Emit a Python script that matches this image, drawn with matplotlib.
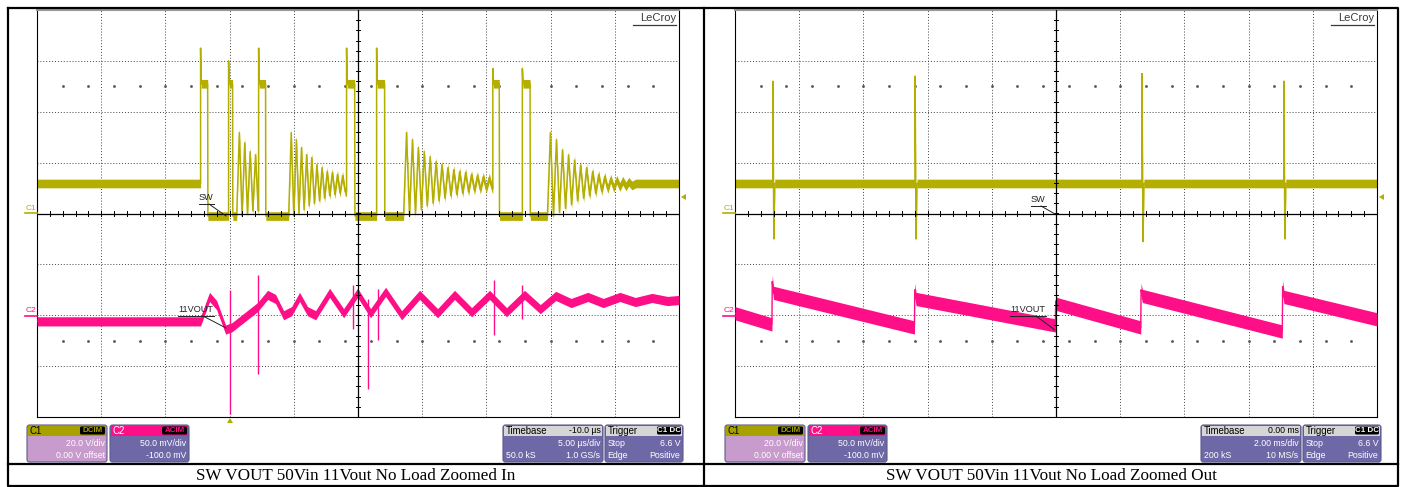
import numpy as np
import matplotlib
matplotlib.use('Agg')
import matplotlib.pyplot as plt
from matplotlib.patches import Rectangle, FancyBboxPatch, Polygon

W, H = 1406, 487
C1_COL = '#B4AE00'
C2_COL = '#FF0F87'

# ---------------- zoomed in: time in us, C1 (SW) in V, C2 (VOUT, AC) in mV
zi_t_left = -15.0
zi_t_div = 5.0
c1_idle = 11.8
c1_low = -1.0
c1_high = 51.0
zi_rise = [-2.26, -0.08, 2.26, 9.11, 11.45, 20.5, 22.8]
zi_fall = [-1.71, 0.23, 2.80, 9.74, 12.07, 21.0, 23.4]
zi_peak = [65, 60, 65, 65, 65, 57, 57]
zi_ring_start = [0.55, 4.6, 13.55, 24.75]
zi_ring_period = [0.42, 0.40, 0.46, 0.47]
zi_ring_hi = [
    [31.8, 27.8, 24.3, 23.1],
    [31.8, 29.0, 25.9, 23.1, 22.0, 19.2, 18.0, 16.5, 16.1, 15.3, 14.9],
    [31.8, 29.0, 25.9, 24.3, 22.3, 20.4, 19.2, 18.0, 17.2, 16.5, 16.1, 15.3, 14.9, 14.5, 14.1],
    [31.8, 29.0, 25.0, 23.0, 21.0, 19.0, 18.0, 16.5, 15.3, 14.5, 13.7, 13.3, 12.9, 12.5],
]
zi_ring_lo = [
    [-1, 0, 1, 1],
    [-1, 0, 1.5, 3, 4, 5, 6, 7, 7.5, 8, 8.5],
    [-1, 0, 1.5, 3, 4, 5, 6, 7, 7.5, 8, 8.5, 9, 9.3, 9.6, 9.8],
    [-1, 0.5, 2, 3.5, 5, 6, 7, 8, 8.8, 9.5, 10, 10.4, 10.7, 11],
]

c2_zi_t = [-15.0, -2.26, -1.56, -1.01, -0.31, 0.16, 1.17, 2.18, 2.96, 3.58, 4.21,
           4.83, 5.45, 6.07, 6.70, 7.79, 8.88, 9.97, 10.98, 12.15, 13.40, 14.80,
           16.2, 17.52, 18.85, 20.25, 21.57, 22.97, 24.2, 25.4, 26.6, 27.9, 29.1,
           30.4, 31.6, 32.9, 34.1, 35.0]
c2_zi_mv = [-6, -6, 18, 10, -14, -12, -2, 8, 20, 16, 0, 4, 18, 4, 0, 22, 2, 22, 2,
            23, 0, 20, 2, 20, 3, 20, 3, 20, 6, 19, 12, 18, 12, 18, 13, 17, 14, 15]
c2_zi_spike_t = [0.0, 2.18, 9.58, 10.75, 11.53, 20.6, 22.8]
c2_zi_spike_lo = [-97, -58, -14, -72, -24, -19, -4]
c2_zi_spike_hi = [25, 40, 30, 16, 26, 35, 30]

# ---------------- zoomed out: time in ms
zo_t_left = -10.0
zo_t_div = 2.0
zo_spike_t = [-8.82, -4.39, 2.68, 7.10]
zo_spike_hi = [52, 54, 55, 52]
zo_spike_lo = [-10, -10, -11, -10]
c2_zo_t = [-10.0, -8.85, -8.84, -8.80, -4.41, -4.40, -4.36, -0.02, -0.01, 0.03,
           2.64, 2.65, 2.69, 7.05, 7.06, 7.10, 10.0]
c2_zo_mv = [2, -9, 33, 22, -12, 25, 16, -10, 14, 11, -12, 25, 19, -16, 28, 18, -4]

# scope settings
c1_vdiv = 20.0
c2_mvdiv = 50.0
c2_offset = -100.0


def build_sw_zoomed_in(t_end=35.0):
    ev = [(t, 'p', i) for i, t in enumerate(zi_rise)]
    ev += [(t, 'r', i) for i, t in enumerate(zi_ring_start)]
    ev.sort()
    ts, vs = [zi_t_left], [c1_idle]
    level = c1_idle
    for t0, kind, i in ev:
        ts.append(t0)
        vs.append(level)
        if kind == 'p':
            ts += [t0, t0 + 0.05, zi_fall[i], zi_fall[i] + 0.02]
            vs += [zi_peak[i], c1_high, c1_high, c1_low]
            level = c1_low
        else:
            half = zi_ring_period[i] / 2
            for k, (hi, lo) in enumerate(zip(zi_ring_hi[i], zi_ring_lo[i])):
                ts += [t0 + half * (2 * k + 1), t0 + half * (2 * k + 2)]
                vs += [hi, lo]
            level = zi_ring_lo[i][-1]
    ts += [ts[-1] + 0.3, t_end]
    vs += [c1_idle, c1_idle]
    return np.array(ts), np.array(vs)


def build_sw_zoomed_out(t_end=10.0):
    ts, vs = [zo_t_left], [c1_idle]
    for t, hi, lo in zip(zo_spike_t, zo_spike_hi, zo_spike_lo):
        ts += [t, t, t + 0.03, t + 0.06]
        vs += [c1_idle, hi, lo, c1_idle]
    ts.append(t_end)
    vs.append(c1_idle)
    return np.array(ts), np.array(vs)


fig = plt.figure(figsize=(W / 100, H / 100), dpi=100)
plt.rcParams['font.family'] = ['Liberation Sans', 'DejaVu Sans']


def px_axes(x0, y0, x1, y1, z=1):
    return fig.add_axes([x0 / W, 1 - y1 / H, (x1 - x0) / W, (y1 - y0) / H], zorder=z)


def scope(x0, t_left, t_div, sw, vout, spikes, c2_band):
    ax = px_axes(x0, 10, x0 + 642, 417)
    ax.set_xlim(0, 10)
    ax.set_ylim(-4, 4)
    ax.set_xticks([])
    ax.set_yticks([])
    for s in ax.spines.values():
        s.set_color('black')
        s.set_linewidth(0.8)
    ax.spines['top'].set_color('#999999')
    ax.spines['top'].set_linewidth(1.5)
    dot = (0, (1, 2))
    for i in range(1, 10):
        if i != 5:
            ax.axvline(i, color='#444444', lw=0.7, ls=dot, zorder=1)
    for j in range(-3, 4):
        if j != 0:
            ax.axhline(j, color='#444444', lw=0.7, ls=dot, zorder=1)
    xs = np.arange(0.4, 10, 0.4)
    for yy in (2.5, -2.5):
        ax.plot(xs, np.full_like(xs, yy), ls='none', marker='s', ms=0.9,
                color='#555555', zorder=1)

    # C1 switch node
    t, v = sw
    xd = (t - t_left) / t_div
    yd = v / c1_vdiv
    ax.fill_between(xd, yd - 0.085, yd + 0.085, color=C1_COL, lw=0, zorder=2)
    ax.plot(xd, yd, color=C1_COL, lw=1.1, zorder=2)

    # C2 output ripple
    t2, mv = vout
    xd2 = (np.array(t2) - t_left) / t_div
    yd2 = (np.array(mv) + c2_offset) / c2_mvdiv
    ax.fill_between(xd2, yd2 - c2_band, yd2 + c2_band, color=C2_COL, lw=0, zorder=3)
    ax.plot(xd2, yd2, color=C2_COL, lw=1.0, zorder=3)
    if spikes is not None:
        st, lo, hi = spikes
        ax.vlines((np.array(st) - t_left) / t_div,
                  (np.array(lo) + c2_offset) / c2_mvdiv,
                  (np.array(hi) + c2_offset) / c2_mvdiv,
                  color=C2_COL, lw=1.0, zorder=3)

    # center cross with minor ticks
    ax.axvline(5, color='black', lw=0.9, zorder=5)
    ax.axhline(0, color='black', lw=0.9, zorder=5)
    for x in np.arange(0.2, 10, 0.2):
        ax.plot([x, x], [-0.04, 0.04], color='black', lw=0.7, zorder=5)
    for y in np.arange(-3.8, 4, 0.2):
        ax.plot([4.97, 5.03], [y, y], color='black', lw=0.7, zorder=5)
    return ax


scope(37, zi_t_left, zi_t_div, build_sw_zoomed_in(),
      (c2_zi_t, c2_zi_mv), (c2_zi_spike_t, c2_zi_spike_lo, c2_zi_spike_hi), 0.09)
scope(735, zo_t_left, zo_t_div, build_sw_zoomed_out(),
      (c2_zo_t, c2_zo_mv), None, 0.13)

# overlay in pixel coordinates for table, info boxes and labels
ov = px_axes(0, 0, W, H, z=10)
ov.set_xlim(0, W)
ov.set_ylim(H, 0)
ov.axis('off')
ov.patch.set_alpha(0)

# table lines
ov.plot([8, 1398, 1398, 8, 8], [8, 8, 485.5, 485.5, 8], color='black', lw=1.6)
ov.plot([703.5, 703.5], [8, 485.5], color='black', lw=1.6)
ov.plot([8, 1398], [463.5, 463.5], color='black', lw=1.6)

captions = ['SW VOUT 50Vin 11Vout No Load Zoomed In',
            'SW VOUT 50Vin 11Vout No Load Zoomed Out']
for cx, cap in zip([356, 1051], captions):
    ov.text(cx, 476, cap, ha='center', va='center', fontsize=12.3,
            family='Liberation Serif')

FS = 6.3
BODY = '#6F68A6'


def info_box(x0, x1, head, body, rows, head_text_col='black', badge=None):
    y0, y1 = 425, 462
    ov.add_patch(FancyBboxPatch((x0, y0), x1 - x0, y1 - y0,
                                boxstyle='round,pad=0,rounding_size=2.5',
                                fc=body, ec='#5C5A8C', lw=0.8))
    ov.add_patch(Rectangle((x0 + 1, y0 + 1), x1 - x0 - 2, 10, fc=head, lw=0))
    (hl, hr), r2, r3 = rows
    ov.text(x0 + 2.5, 430.5, hl, ha='left', va='center', fontsize=FS + 0.6,
            color=head_text_col)
    if hr:
        ov.text(x1 - 2.5, 430.5, hr, ha='right', va='center', fontsize=FS,
                color='black')
    if badge:
        txt, col, bx0 = badge
        ov.add_patch(FancyBboxPatch((bx0, 426.5), x1 - 2 - bx0, 8,
                                    boxstyle='round,pad=0,rounding_size=1.5',
                                    fc='black', lw=0))
        ov.text((bx0 + x1 - 2) / 2, 430.7, txt, ha='center', va='center',
                fontsize=FS - 0.6, color=col, weight='bold')
    for yy, (l, r) in zip([443, 455], [r2, r3]):
        if l:
            ov.text(x0 + 2.5, yy, l, ha='left', va='center', fontsize=FS,
                    color='white')
        if r:
            ov.text(x1 - 2.5, yy, r, ha='right', va='center', fontsize=FS,
                    color='white')


panels = [
    (0, '-10.0 µs', '5.00 µs/div', '50.0 kS', '1.0 GS/s'),
    (698, '0.00 ms', '2.00 ms/div', '200 kS', '10 MS/s'),
]
for dx, tb, tdiv, ks, rate in panels:
    info_box(27 + dx, 107 + dx, '#A8A200', '#C79BCB',
             [('C1', None), (None, '20.0 V/div'), (None, '0.00 V offset')],
             badge=('DCIM', '#A8A200', 80 + dx))
    info_box(110 + dx, 189 + dx, C2_COL, BODY,
             [('C2', None), (None, '50.0 mV/div'), (None, '-100.0 mV')],
             head_text_col='white', badge=('ACIM', C2_COL, 162 + dx))
    info_box(503 + dx, 603 + dx, '#D6D6D6', BODY,
             [('Timebase', tb), (None, tdiv), (ks, rate)])
    info_box(605 + dx, 683 + dx, '#D6D6D6', BODY,
             [('Trigger', None), ('Stop', '6.6 V'), ('Edge', 'Positive')],
             badge=('C1 DC', 'white', 657 + dx))

    # LeCroy logo, underlined
    ov.text(676 + dx, 18, 'LeCroy', ha='right', va='center', fontsize=8,
            color='#3A3A3A')
    ov.plot([633 + dx, 676 + dx], [24.5, 24.5], color='#3A3A3A', lw=0.9)

    # channel markers at the left edge
    ov.text(26 + dx, 208, 'C1', fontsize=6, color=C1_COL, va='center')
    ov.plot([25 + dx, 37 + dx], [213, 213], color=C1_COL, lw=1.2)
    ov.text(26 + dx, 311, 'C2', fontsize=6, color=C2_COL, va='center')
    ov.plot([25 + dx, 37 + dx], [316, 316], color=C2_COL, lw=1.2)
    # trigger level arrow on the right
    ov.add_patch(Polygon([[681 + dx, 197], [686 + dx, 194], [686 + dx, 200]],
                         closed=True, fc=C1_COL, lw=0))

# trigger position marker (zoomed in only)
ov.add_patch(Polygon([[227, 423], [233, 423], [230, 418]], closed=True,
                     fc=C1_COL, lw=0))

# trace labels
labels = [
    (199, 198, 'SW', (209, 204), (226, 216)),
    (178, 310, '11VOUT', (203, 316), (226, 328)),
    (1031, 200, 'SW', (1041, 206), (1055, 214)),
    (1010, 310, '11VOUT', (1036, 316), (1055, 330)),
]
for x, y, s, p0, p1 in labels:
    ov.text(x, y, s, fontsize=6.6, color='#222222', va='center', ha='left')
    w = 15 if s == 'SW' else 36
    ov.plot([x, x + w], [y + 5.5, y + 5.5], color='#222222', lw=0.7)
    ov.plot([p0[0], p1[0]], [p0[1], p1[1]], color='#222222', lw=0.7)

fig.savefig('out.png', dpi=100)
